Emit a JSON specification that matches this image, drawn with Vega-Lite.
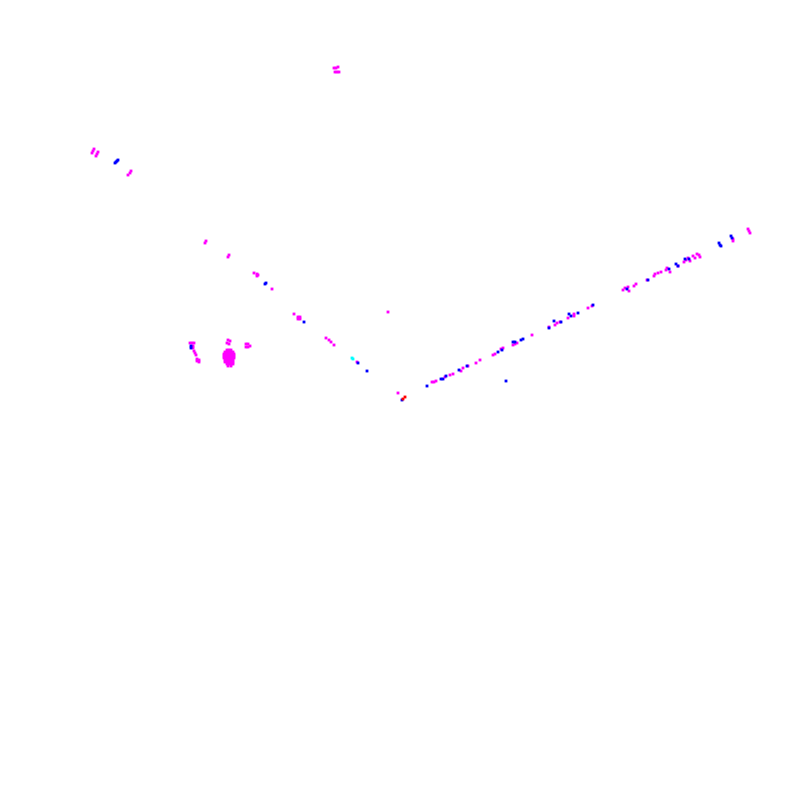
{
  "$schema": "https://vega.github.io/schema/vega-lite/v6.json",
  "description": "Sparse pixel scatter, two diagonal arms meeting near the centre.",
  "autosize": {"type": "fit", "contains": "padding"},
  "width": 800,
  "height": 800,
  "padding": 0,
  "background": "white",
  "config": {"view": {"stroke": null}},
  "data": {
    "values": [
      {"x": 92, "y": 153, "c": "m"}, {"x": 93, "y": 151, "c": "m"}, {"x": 94, "y": 149, "c": "m"},
      {"x": 96, "y": 156, "c": "m"}, {"x": 97, "y": 154, "c": "m"}, {"x": 98, "y": 152, "c": "m"},
      {"x": 128, "y": 175, "c": "m"}, {"x": 130, "y": 173, "c": "m"}, {"x": 131, "y": 171, "c": "m"},
      {"x": 205, "y": 243, "c": "m"}, {"x": 206, "y": 241, "c": "m"},
      {"x": 228, "y": 257, "c": "m"}, {"x": 229, "y": 255, "c": "m"},
      {"x": 254, "y": 273, "c": "m"}, {"x": 257, "y": 276, "c": "m"}, {"x": 258, "y": 275, "c": "m"}, {"x": 257, "y": 274, "c": "m"},
      {"x": 272, "y": 289, "c": "m"},
      {"x": 294, "y": 314, "c": "m"},
      {"x": 298, "y": 317, "c": "m"}, {"x": 299, "y": 318, "c": "m"}, {"x": 300, "y": 319, "c": "m"}, {"x": 300, "y": 317, "c": "m"}, {"x": 298, "y": 319, "c": "m"},
      {"x": 388, "y": 312, "c": "m"},
      {"x": 326, "y": 338, "c": "m"}, {"x": 329, "y": 340, "c": "m"}, {"x": 331, "y": 342, "c": "m"}, {"x": 334, "y": 345, "c": "m"},
      {"x": 357, "y": 362, "c": "m"},
      {"x": 398, "y": 393, "c": "m"},
      {"x": 334, "y": 68, "c": "m"}, {"x": 336, "y": 68, "c": "m"}, {"x": 338, "y": 67, "c": "m"},
      {"x": 335, "y": 72, "c": "m"}, {"x": 337, "y": 72, "c": "m"}, {"x": 339, "y": 72, "c": "m"},
      {"x": 190, "y": 343, "c": "m"}, {"x": 192, "y": 343, "c": "m"}, {"x": 194, "y": 343, "c": "m"},
      {"x": 193, "y": 346, "c": "m"}, {"x": 193, "y": 348, "c": "m"}, {"x": 194, "y": 351, "c": "m"},
      {"x": 195, "y": 353, "c": "m"}, {"x": 196, "y": 355, "c": "m"}, {"x": 197, "y": 359, "c": "m"},
      {"x": 197, "y": 361, "c": "m"}, {"x": 199, "y": 360, "c": "m"}, {"x": 199, "y": 362, "c": "m"},
      {"x": 228, "y": 340, "c": "m"}, {"x": 230, "y": 341, "c": "m"}, {"x": 227, "y": 343, "c": "m"}, {"x": 229, "y": 344, "c": "m"},
      {"x": 227, "y": 350, "c": "m"}, {"x": 229, "y": 350, "c": "m"}, {"x": 231, "y": 350, "c": "m"},
      {"x": 225, "y": 352, "c": "m"}, {"x": 227, "y": 352, "c": "m"}, {"x": 229, "y": 352, "c": "m"}, {"x": 231, "y": 352, "c": "m"}, {"x": 233, "y": 352, "c": "m"},
      {"x": 224, "y": 354, "c": "m"}, {"x": 226, "y": 354, "c": "m"}, {"x": 228, "y": 354, "c": "m"}, {"x": 230, "y": 354, "c": "m"}, {"x": 232, "y": 354, "c": "m"}, {"x": 234, "y": 354, "c": "m"},
      {"x": 224, "y": 356, "c": "m"}, {"x": 226, "y": 356, "c": "m"}, {"x": 228, "y": 356, "c": "m"}, {"x": 230, "y": 356, "c": "m"}, {"x": 232, "y": 356, "c": "m"}, {"x": 234, "y": 356, "c": "m"},
      {"x": 224, "y": 358, "c": "m"}, {"x": 226, "y": 358, "c": "m"}, {"x": 228, "y": 358, "c": "m"}, {"x": 230, "y": 358, "c": "m"}, {"x": 232, "y": 358, "c": "m"}, {"x": 234, "y": 358, "c": "m"},
      {"x": 225, "y": 360, "c": "m"}, {"x": 227, "y": 360, "c": "m"}, {"x": 229, "y": 360, "c": "m"}, {"x": 231, "y": 360, "c": "m"}, {"x": 233, "y": 360, "c": "m"},
      {"x": 225, "y": 362, "c": "m"}, {"x": 227, "y": 362, "c": "m"}, {"x": 229, "y": 362, "c": "m"}, {"x": 231, "y": 362, "c": "m"}, {"x": 233, "y": 362, "c": "m"},
      {"x": 227, "y": 364, "c": "m"}, {"x": 229, "y": 364, "c": "m"}, {"x": 231, "y": 364, "c": "m"}, {"x": 233, "y": 364, "c": "m"},
      {"x": 228, "y": 366, "c": "m"}, {"x": 231, "y": 366, "c": "m"},
      {"x": 246, "y": 344, "c": "m"}, {"x": 248, "y": 344, "c": "m"}, {"x": 246, "y": 347, "c": "m"}, {"x": 248, "y": 347, "c": "m"}, {"x": 250, "y": 346, "c": "m"},
      {"x": 432, "y": 382, "c": "m"}, {"x": 434, "y": 382, "c": "m"}, {"x": 436, "y": 381, "c": "m"},
      {"x": 445, "y": 377, "c": "m"}, {"x": 450, "y": 375, "c": "m"}, {"x": 453, "y": 374, "c": "m"},
      {"x": 461, "y": 371, "c": "m"}, {"x": 463, "y": 368, "c": "m"}, {"x": 468, "y": 366, "c": "m"},
      {"x": 476, "y": 363, "c": "m"}, {"x": 480, "y": 360, "c": "m"}, {"x": 493, "y": 355, "c": "m"},
      {"x": 495, "y": 354, "c": "m"}, {"x": 501, "y": 349, "c": "m"}, {"x": 503, "y": 348, "c": "m"},
      {"x": 513, "y": 345, "c": "m"}, {"x": 515, "y": 344, "c": "m"}, {"x": 517, "y": 343, "c": "m"},
      {"x": 532, "y": 335, "c": "m"}, {"x": 549, "y": 327, "c": "m"}, {"x": 555, "y": 325, "c": "m"},
      {"x": 557, "y": 323, "c": "m"}, {"x": 560, "y": 322, "c": "m"}, {"x": 568, "y": 318, "c": "m"},
      {"x": 574, "y": 316, "c": "m"}, {"x": 574, "y": 314, "c": "m"}, {"x": 588, "y": 308, "c": "m"},
      {"x": 592, "y": 306, "c": "m"}, {"x": 623, "y": 290, "c": "m"}, {"x": 625, "y": 288, "c": "m"},
      {"x": 628, "y": 287, "c": "m"}, {"x": 629, "y": 291, "c": "m"}, {"x": 634, "y": 286, "c": "m"},
      {"x": 636, "y": 284, "c": "m"}, {"x": 647, "y": 280, "c": "m"}, {"x": 654, "y": 276, "c": "m"},
      {"x": 655, "y": 274, "c": "m"}, {"x": 658, "y": 273, "c": "m"}, {"x": 661, "y": 272, "c": "m"},
      {"x": 666, "y": 270, "c": "m"}, {"x": 667, "y": 268, "c": "m"}, {"x": 670, "y": 272, "c": "m"},
      {"x": 678, "y": 266, "c": "m"}, {"x": 684, "y": 262, "c": "m"}, {"x": 686, "y": 260, "c": "m"},
      {"x": 688, "y": 258, "c": "m"}, {"x": 690, "y": 261, "c": "m"}, {"x": 693, "y": 256, "c": "m"},
      {"x": 695, "y": 258, "c": "m"}, {"x": 697, "y": 254, "c": "m"}, {"x": 699, "y": 255, "c": "m"},
      {"x": 700, "y": 257, "c": "m"}, {"x": 733, "y": 239, "c": "m"}, {"x": 733, "y": 241, "c": "m"},
      {"x": 748, "y": 229, "c": "m"}, {"x": 749, "y": 231, "c": "m"}, {"x": 750, "y": 233, "c": "m"},
      {"x": 115, "y": 163, "c": "b"}, {"x": 116, "y": 162, "c": "b"}, {"x": 117, "y": 161, "c": "b"}, {"x": 118, "y": 160, "c": "b"},
      {"x": 265, "y": 284, "c": "b"}, {"x": 266, "y": 283, "c": "b"},
      {"x": 304, "y": 322, "c": "b"}, {"x": 358, "y": 363, "c": "b"}, {"x": 367, "y": 371, "c": "b"},
      {"x": 402, "y": 400, "c": "b"}, {"x": 191, "y": 346, "c": "b"}, {"x": 191, "y": 348, "c": "b"},
      {"x": 427, "y": 386, "c": "b"}, {"x": 441, "y": 379, "c": "b"}, {"x": 443, "y": 379, "c": "b"},
      {"x": 446, "y": 376, "c": "b"}, {"x": 459, "y": 370, "c": "b"}, {"x": 467, "y": 366, "c": "b"},
      {"x": 506, "y": 381, "c": "b"}, {"x": 498, "y": 352, "c": "b"}, {"x": 502, "y": 350, "c": "b"},
      {"x": 513, "y": 342, "c": "b"}, {"x": 515, "y": 342, "c": "b"}, {"x": 521, "y": 340, "c": "b"},
      {"x": 523, "y": 339, "c": "b"}, {"x": 549, "y": 328, "c": "b"}, {"x": 554, "y": 321, "c": "b"},
      {"x": 561, "y": 322, "c": "b"}, {"x": 569, "y": 314, "c": "b"}, {"x": 571, "y": 316, "c": "b"},
      {"x": 578, "y": 313, "c": "b"}, {"x": 593, "y": 305, "c": "b"}, {"x": 627, "y": 289, "c": "b"},
      {"x": 648, "y": 280, "c": "b"}, {"x": 669, "y": 269, "c": "b"}, {"x": 676, "y": 264, "c": "b"},
      {"x": 678, "y": 266, "c": "b"}, {"x": 685, "y": 259, "c": "b"}, {"x": 689, "y": 259, "c": "b"},
      {"x": 719, "y": 243, "c": "b"}, {"x": 720, "y": 245, "c": "b"}, {"x": 721, "y": 246, "c": "b"},
      {"x": 731, "y": 236, "c": "b"}, {"x": 732, "y": 238, "c": "b"},
      {"x": 352, "y": 358, "c": "c"}, {"x": 353, "y": 359, "c": "c"},
      {"x": 405, "y": 397, "c": "r"}, {"x": 403, "y": 399, "c": "r"}
    ]
  },
  "mark": {"type": "point", "shape": "square", "filled": true, "size": 8, "opacity": 1},
  "encoding": {
    "x": {"field": "x", "type": "quantitative", "scale": {"domain": [0, 800]}, "axis": null},
    "y": {"field": "y", "type": "quantitative", "scale": {"domain": [0, 800], "reverse": true}, "axis": null},
    "color": {
      "field": "c",
      "type": "nominal",
      "scale": {"domain": ["m", "b", "c", "r"], "range": ["#ff00ff", "#0000ff", "#00ffff", "#ff0000"]},
      "legend": null
    }
  }
}
